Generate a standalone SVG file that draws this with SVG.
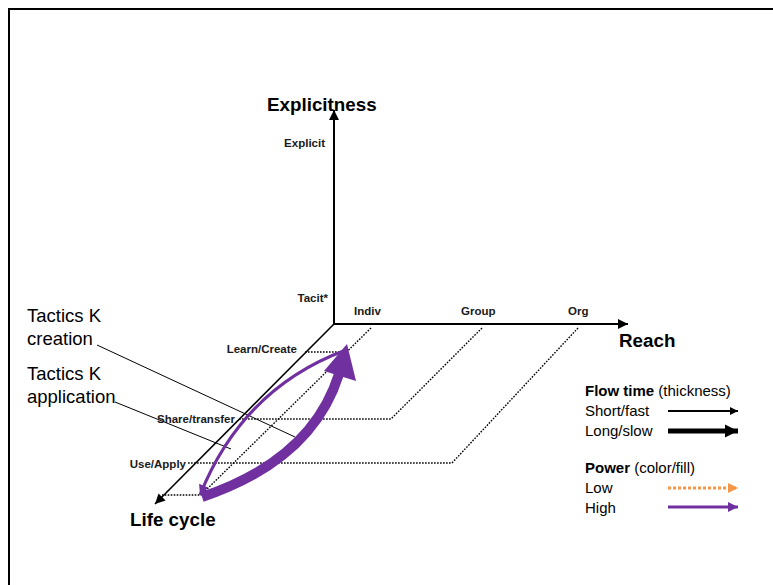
<svg xmlns="http://www.w3.org/2000/svg" width="773" height="585" viewBox="0 0 773 585">
<defs>
<style>
.ax{stroke:#000;stroke-width:2;fill:none}
.dot{stroke:#000;stroke-width:1.4;stroke-dasharray:1.6 1.4;fill:none}
.lead{stroke:#000;stroke-width:1;fill:none}
.big{font-family:"Liberation Sans",Arial,sans-serif;font-weight:bold;font-size:18.8px;fill:#000}
.sm{font-family:"Liberation Sans",Arial,sans-serif;font-weight:bold;font-size:11.5px;fill:#1a1a1a}
.tac{font-family:"Liberation Sans",Arial,sans-serif;font-size:18.5px;fill:#000}
.lg{font-family:"Liberation Sans",Arial,sans-serif;font-size:15px;fill:#000}
.lgb{font-weight:bold}
</style>
<marker id="ah" markerUnits="userSpaceOnUse" viewBox="0 0 10 10" refX="10" refY="5" markerWidth="11" markerHeight="10" orient="auto"><path d="M0,0 L10,5 L0,10 z" fill="#000"/></marker>
<marker id="ahs" markerUnits="userSpaceOnUse" viewBox="0 0 10 10" refX="10" refY="5" markerWidth="9" markerHeight="8" orient="auto"><path d="M0,0 L10,5 L0,10 z" fill="#000"/></marker>
<marker id="ahl" markerUnits="userSpaceOnUse" viewBox="0 0 10 10" refX="10" refY="5" markerWidth="13" markerHeight="14" orient="auto"><path d="M0,0 L10,5 L0,10 z" fill="#000"/></marker>
<marker id="ahp" markerUnits="userSpaceOnUse" viewBox="0 0 10 10" refX="10" refY="5" markerWidth="11" markerHeight="10" orient="auto"><path d="M0,0 L10,5 L0,10 z" fill="#7030A0"/></marker>
<marker id="aho" markerUnits="userSpaceOnUse" viewBox="0 0 10 10" refX="10" refY="5" markerWidth="11" markerHeight="10" orient="auto"><path d="M0,0 L10,5 L0,10 z" fill="#F79646"/></marker>
</defs>
<rect x="0" y="0" width="773" height="585" fill="#fff"/>
<rect x="9" y="9" width="800" height="620" fill="none" stroke="#000" stroke-width="2"/>

<g id="connectors">
  <line class="ax" x1="334" y1="324" x2="334" y2="110" marker-end="url(#ah)"/>
  <line class="ax" x1="334" y1="324" x2="628" y2="324" marker-end="url(#ah)"/>
  <line x1="334" y1="324" x2="155" y2="504" stroke="#000" stroke-width="1.6" marker-end="url(#ah)"/>
  <polyline class="dot" points="371,328 201,495 162,495"/>
  <polyline class="dot" points="305,352 346,352"/>
  <polyline class="dot" points="482,328 391,419 238,419"/>
  <polyline class="dot" points="578,328 452,463 188,463"/>
  <line class="lead" x1="97" y1="345" x2="295" y2="437"/>
  <line class="lead" x1="115" y1="402" x2="231" y2="449"/>
  <path d="M346,350 Q243,388 200,495" fill="none" stroke="#7030A0" stroke-width="3" marker-end="url(#ahp)"/>
  <path d="M202,497 Q312,460 339,374" fill="none" stroke="#7030A0" stroke-width="10"/>
  <polygon points="347,344 324,371 356,381" fill="#7030A0"/>
</g>

<g id="axis-labels">
  <text class="big" x="267" y="111">Explicitness</text>
  <text class="big" x="619" y="347">Reach</text>
  <text class="big" x="130" y="526">Life cycle</text>
</g>

<g id="ticks">
  <text class="sm" x="325" y="147" text-anchor="end">Explicit</text>
  <text class="sm" x="328" y="302" text-anchor="end">Tacit*</text>
  <text class="sm" x="354" y="315">Indiv</text>
  <text class="sm" x="461" y="315">Group</text>
  <text class="sm" x="568" y="315">Org</text>
  <text class="sm" x="297" y="353" text-anchor="end">Learn/Create</text>
  <text class="sm" x="235" y="423" text-anchor="end">Share/transfer</text>
  <text class="sm" x="186" y="468" text-anchor="end">Use/Apply</text>
</g>

<g id="tactics-creation">
  <text class="tac" x="27" y="322">Tactics K</text>
  <text class="tac" x="27" y="345">creation</text>
</g>
<g id="tactics-application">
  <text class="tac" x="27" y="380">Tactics K</text>
  <text class="tac" x="27" y="403">application</text>
</g>

<g id="legend">
  <text class="lg" x="585" y="396"><tspan class="lgb">Flow time</tspan> (thickness)</text>
  <text class="lg" x="585" y="416">Short/fast</text>
  <text class="lg" x="585" y="436">Long/slow</text>
  <text class="lg" x="585" y="473"><tspan class="lgb">Power</tspan> (color/fill)</text>
  <text class="lg" x="585" y="493">Low</text>
  <text class="lg" x="585" y="513">High</text>
  <line x1="668" y1="411" x2="738" y2="411" stroke="#000" stroke-width="2" marker-end="url(#ahs)"/>
  <line x1="668" y1="431" x2="738" y2="431" stroke="#000" stroke-width="5" marker-end="url(#ahl)"/>
  <line x1="668" y1="488" x2="738" y2="488" stroke="#F79646" stroke-width="3" stroke-dasharray="3 2" marker-end="url(#aho)"/>
  <line x1="668" y1="507" x2="738" y2="507" stroke="#7030A0" stroke-width="3" marker-end="url(#ahp)"/>
</g>
</svg>
